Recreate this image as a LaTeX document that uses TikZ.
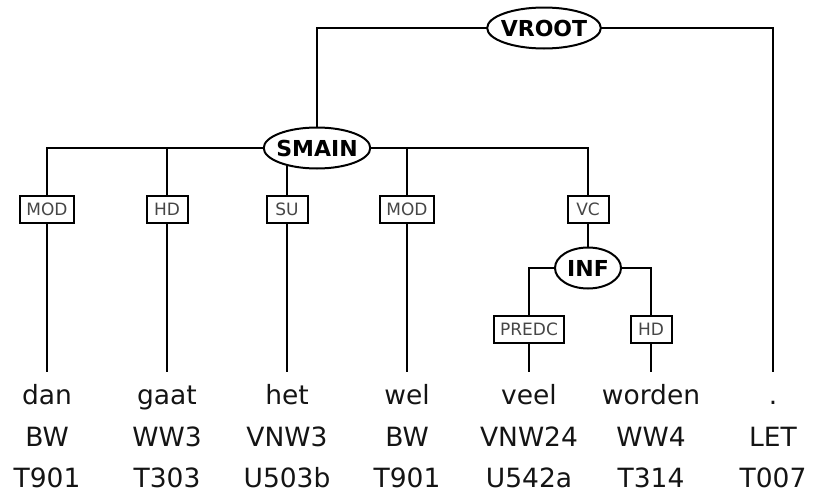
\documentclass[tikz,border=0pt]{standalone}
\usepackage{fontspec}
\setmainfont{DejaVu Sans}
\usetikzlibrary{shapes.geometric, backgrounds, positioning}
\definecolor{wordgray}{RGB}{20,20,20}
\definecolor{relgray}{RGB}{70,70,70}

\begin{document}
\begin{tikzpicture}[x=1pt, y=-1pt, line width=2pt,
  cat/.style={ellipse, draw, fill=white, line width=2pt,
    font=\fontsize{22}{22}\selectfont\bfseries,
    inner xsep=-3pt, inner ysep=0pt, minimum width=66pt, minimum height=41pt},
  rel/.style={rectangle, draw, fill=white, text=relgray,
    font=\fontsize{17}{17}\selectfont,
    inner xsep=6pt, inner ysep=0pt, minimum width=41pt, minimum height=27pt},
  tok/.style={anchor=base, text=wordgray, font=\fontsize{26.5}{26.5}\selectfont,
    inner sep=2pt, text height=19pt},
  link/.style={draw, line width=1.8pt}]

\useasboundingbox (0,0) rectangle (817,493);

% Categories
\node[cat] (vroot) at (544,28) {VROOT};
\node[cat] (smain) at (317,148) {SMAIN};
\node[cat] (inf) at (588,268) {INF};

% Relations
\foreach \n/\x/\y/\l in {1/47/209/MOD, 2/167/209/HD, 3/287/209/SU,
    4/407/209/MOD, 5/588/209/VC, 6/529/329/PREDC, 7/651/329/HD}
  \node[rel] (r\n) at (\x,\y) {\l};

% Words, tags
\foreach \n/\x/\wrd/\pst/\tgs in {1/47/dan/BW/T901, 2/167/gaat/WW3/T303,
    3/287/het/VNW3/U503b, 4/407/wel/BW/T901, 5/529/veel/VNW24/U542a,
    6/651/worden/WW4/T314, 7/773/./LET/T007}
{
  \node[tok] (w\n) at (\x,404) {\wrd};
  \node[tok] (p\n) at (\x,446) {\pst};
  \node[tok] (t\n) at (\x,487) {\tgs};
}

% Edges
\begin{scope}[on background layer]
  \path[link] (vroot.center) -| (smain.north);
  \path[link, shorten >=10pt] (vroot.center) -| (w7.north);
  \foreach \n in {1,...,5}
    \path[link] (smain.center) -| (r\n.north);
  \path[link] (r5.south) -- (inf.north);
  \path[link] (inf.center) -| (r6.north);
  \path[link] (inf.center) -| (r7.north);
  \foreach \n in {1,...,4}
    \path[link, shorten >=10pt] (r\n.south) -- (w\n.north);
  \path[link, shorten >=10pt] (r6.south) -- (w5.north);
  \path[link, shorten >=10pt] (r7.south) -- (w6.north);
\end{scope}

\end{tikzpicture}
\end{document}
